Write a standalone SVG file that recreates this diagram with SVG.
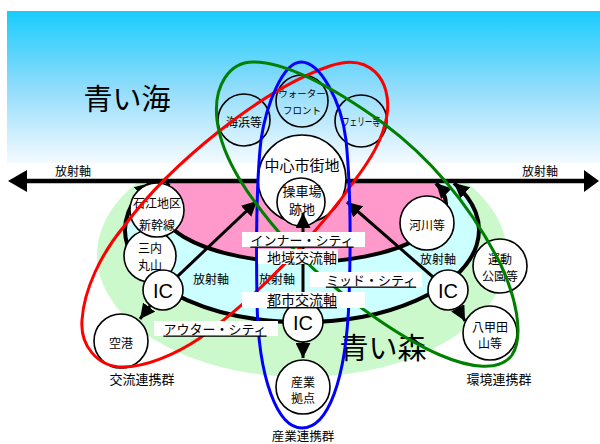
<svg xmlns="http://www.w3.org/2000/svg" width="600" height="444" viewBox="0 0 600 444">
<defs>
<linearGradient id="sky" x1="0" y1="0" x2="0" y2="1">
<stop offset="0" stop-color="#18ccfd"/>
<stop offset="0.5" stop-color="#8fdcfb"/>
<stop offset="1" stop-color="#f4faff"/>
</linearGradient>
<clipPath id="below"><rect x="0" y="181" width="600" height="263"/></clipPath>
<marker id="arr" viewBox="0 0 15 15" refX="15" refY="7.5" markerWidth="15" markerHeight="15" markerUnits="userSpaceOnUse" orient="auto-start-reverse">
<path d="M0,0 L15,7.5 L0,15 Z" fill="#000"/>
</marker>
<style>
text{font-family:"Noto Sans CJK JP","Noto Sans CJK SC",sans-serif;text-anchor:middle;dominant-baseline:central;fill:#000}
.c{fill:#fff;stroke:#000;stroke-width:1.6}
.o{fill:none;stroke:#000;stroke-width:1.6}
.s12{font-size:12px}
.s13{font-size:13px}
.s14{font-size:14px}
.ic{font-family:"Liberation Sans",sans-serif;font-size:20px}
.arc{fill:none;stroke:#000;stroke-width:4}
.rad{fill:none;stroke:#000;stroke-width:3}
.loop{fill:none;stroke-width:3}
.box{fill:#fff}
.u{text-decoration:underline}
</style>
</defs>
<rect x="7" y="11" width="593" height="152" fill="url(#sky)"/>
<g clip-path="url(#below)">
<ellipse cx="302" cy="255" rx="205" ry="122" fill="#ccf9cc"/>
<ellipse cx="302" cy="230" rx="177" ry="92" fill="#ccffff"/>
<ellipse cx="302" cy="205" rx="143.5" ry="58" fill="#ff99cc"/>
</g>
<text x="127" y="97" style="font-size:29px">青い海</text>
<text x="383" y="346" style="font-size:29px">青い森</text>
<g id="connectors">
<line x1="25" y1="181" x2="586" y2="181" stroke="#000" stroke-width="4.5"/>
<polygon points="8,181 27,170 27,192" fill="#000"/>
<polygon points="599,181 584,170 584,192" fill="#000"/>
<path class="arc" d="M150,183 A177,92 0 1 0 454,183" marker-start="url(#arr)" marker-end="url(#arr)"/>
<path class="arc" d="M169,183 A143.5,58 0 1 0 436,183" marker-end="url(#arr)"/>
</g>
<text class="s12" x="73" y="170">放射軸</text>
<text class="s12" x="540" y="170">放射軸</text>
<text class="s12" x="211" y="278">放射軸</text>
<text class="s12" x="277" y="278">放射軸</text>
<text class="s12" x="438" y="258">放射軸</text>
<g id="n-kaihin"><circle class="o" cx="244" cy="120" r="26"/><text class="s12" x="244" y="121">海浜等</text></g>
<g id="n-water"><circle class="o" cx="302" cy="101" r="26"/><text x="302" y="93" style="font-size:9.5px">ウォーター</text><text x="302" y="110" style="font-size:9.5px">フロント</text></g>
<g id="n-ferry"><circle class="o" cx="361" cy="121" r="26"/><text x="361" y="121" style="font-size:11px" textLength="38" lengthAdjust="spacingAndGlyphs">フェリー等</text></g>
<g id="n-center"><circle class="c" cx="302" cy="179" r="44"/><text x="302" y="164" style="font-size:15px">中心市街地</text></g>
<g id="n-sosha"><circle class="c" cx="301" cy="202" r="24"/><text class="s13" x="302" y="190">操車場</text><text class="s13" x="302" y="208">跡地</text></g>
<g id="n-sannai"><circle class="c" cx="150" cy="256" r="26"/><text class="s12" x="150" y="247">三内</text><text class="s12" x="150" y="264">丸山</text></g>
<g id="n-ishie"><circle class="c" cx="157" cy="210" r="27"/><text class="s12" x="157" y="202">石江地区</text><text class="s12" x="157" y="224">新幹線</text></g>
<g id="n-ic1"><circle class="c" cx="163" cy="290" r="20"/><text class="ic" x="163" y="291">IC</text></g>
<g id="n-ic2"><circle class="c" cx="303" cy="322" r="20"/><text class="ic" x="303" y="323">IC</text></g>
<g id="n-ic3"><circle class="c" cx="448" cy="290" r="20"/><text class="ic" x="448" y="291">IC</text></g>
<g id="n-kasen"><circle class="c" cx="427" cy="223" r="27"/><text class="s12" x="427" y="224">河川等</text></g>
<g id="n-undo"><circle class="c" cx="500" cy="266" r="27"/><text class="s12" x="500" y="258">運動</text><text class="s12" x="500" y="275">公園等</text></g>
<g id="n-kuko"><circle class="c" cx="121" cy="341" r="27"/><text class="s12" x="121" y="342">空港</text></g>
<g id="n-hakkoda"><circle class="c" cx="490" cy="333" r="27"/><text class="s12" x="490" y="326">八甲田</text><text class="s12" x="490" y="342">山等</text></g>
<g id="n-sangyo"><circle class="c" cx="303" cy="387" r="27"/><text class="s12" x="303" y="381">産業</text><text class="s12" x="303" y="397">拠点</text></g>
<g id="radials">
<line class="rad" x1="177.5" y1="276.3" x2="257" y2="201" marker-end="url(#arr)"/>
<line class="rad" x1="433" y1="277" x2="347" y2="202" marker-end="url(#arr)"/>
<line class="rad" x1="303" y1="302" x2="303" y2="213" marker-end="url(#arr)"/>
<line class="rad" x1="150.2" y1="305.6" x2="140" y2="319" marker-end="url(#arr)"/>
<line class="rad" x1="303" y1="342" x2="303" y2="358" marker-end="url(#arr)"/>
<line class="rad" x1="457.7" y1="307.7" x2="465" y2="321" marker-end="url(#arr)"/>
</g>
<g id="loops">
<path class="loop" stroke="#ff0000" d="M123,367 C97,367 80,345 82,320 C84,290 100,255 125,225 C170,165 260,90 330,66 C370,52 392,80 387,115 C383,140 370,160 355,180 C320,230 260,295 200,338 C175,355 145,367 123,367 Z"/>
<path class="loop" stroke="#0000ff" d="M301,62 C283,62 266,105 261,140 C257,175 256,240 257,300 C258,380 278,428 302,428 C328,428 346,380 349,300 C351,240 350,180 346,140 C341,100 320,62 301,62 Z"/>
<path class="loop" stroke="#008000" d="M253,62 C285,62 330,85 383,123 C430,158 470,205 500,263 C515,295 525,335 512,355 C500,372 470,368 440,355 C400,338 330,290 290,245 C250,200 222,160 217,120 C213,85 230,62 253,62 Z"/>
</g>
<g id="lbl-inner"><rect class="box" x="242" y="232" width="123" height="15"/><text class="s13 u" x="302" y="239">インナー・シティ</text></g>
<g id="lbl-chiiki"><rect class="box" x="258" y="249" width="80" height="15"/><text class="s14" x="302" y="257">地域交流軸</text></g>
<g id="lbl-mid"><rect class="box" x="310" y="272" width="112" height="15"/><text class="s13 u" x="371" y="279">ミッド・シティ</text></g>
<g id="lbl-toshi"><rect class="box" x="242" y="292" width="123" height="16"/><text class="s14 u" x="302" y="299">都市交流軸</text></g>
<g id="lbl-outer"><rect class="box" x="154" y="321" width="124" height="15"/><text class="s13 u" x="215" y="328">アウター・シティ</text></g>
<text class="s13" x="142" y="378">交流連携群</text>
<text class="s13" x="499" y="378">環境連携群</text>
<text x="303" y="435.5" style="font-size:12.5px">産業連携群</text>
</svg>
